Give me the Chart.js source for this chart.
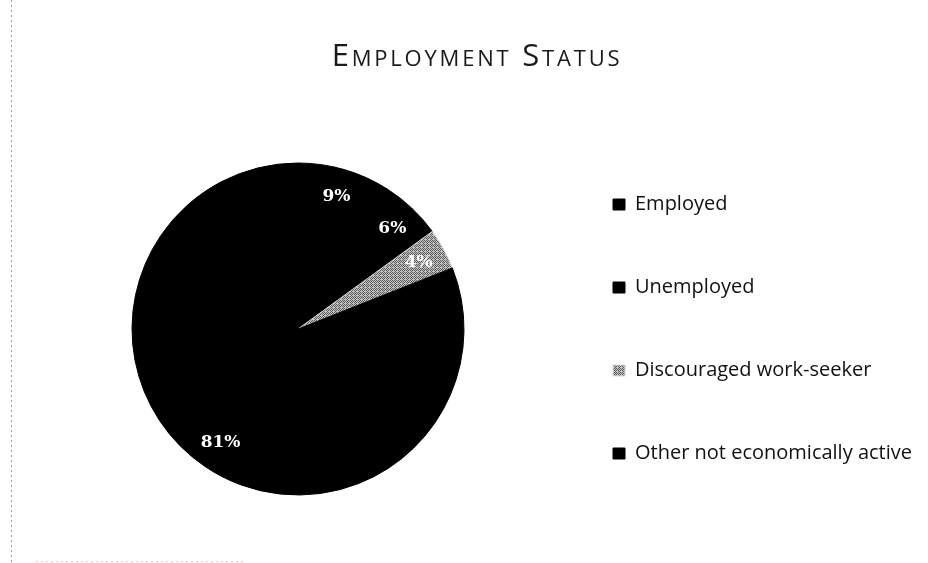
<!DOCTYPE html>
<html>
<head>
<meta charset="utf-8">
<script src="https://cdn.jsdelivr.net/npm/chart.js@4.4.1/dist/chart.umd.min.js"></script>
<style>
  html, body { margin: 0; padding: 0; background: #ffffff; }
  #wrap { width: 928px; height: 563px; position: relative; }
</style>
</head>
<body>
<div id="wrap"><canvas id="c" width="928" height="563"></canvas></div>
<script>
// ---- data ----
const chartTitle = 'Employment Status';
const categories = ['Employed', 'Unemployed', 'Discouraged work-seeker', 'Other not economically active'];
const percentValues = [9, 6, 4, 81];
const percentLabels = ['9%', '6%', '4%', '81%'];

// ---- styles ----
function makeHatch() {
  const p = document.createElement('canvas');
  p.width = 4; p.height = 4;
  const g = p.getContext('2d');
  g.fillStyle = '#c4c4c4'; g.fillRect(0, 0, 4, 4);
  g.fillStyle = '#5a5a5a';
  g.fillRect(0, 0, 1, 1); g.fillRect(2, 0, 1, 1);
  g.fillRect(1, 1, 1, 1); g.fillRect(3, 1, 1, 1);
  g.fillRect(0, 2, 1, 1); g.fillRect(2, 2, 1, 1);
  g.fillRect(3, 3, 1, 1);
  return g.createPattern(p, 'repeat');
}
const ctx = document.getElementById('c').getContext('2d');
const hatch = makeHatch();
const sliceColors = ['#000000', '#000000', hatch, '#000000'];
const sliceBorders = ['#000000', '#000000', '#d8d8d8', '#000000'];

const legendFontSize = 20;
const legendFamily = "'Open Sans', sans-serif";
const legendPad = 63;
const legendBox = 12;
const pieCenterX = 298;
const pieRadius = 166;

// measure legend text to place the chart area
ctx.save();
ctx.font = legendFontSize + 'px ' + legendFamily;
let maxText = 0;
categories.forEach(t => { maxText = Math.max(maxText, ctx.measureText(t).width); });
ctx.restore();
const legendBoxX = 613;
const chartRight = legendBoxX - legendPad;
const chartLeft = 2 * pieCenterX - chartRight;
const legendWidth = legendPad + legendBox + legendFontSize / 2 + maxText;
const rightPad = Math.max(0, 928 - chartRight - legendWidth - 10);

const titlePlugin = {
  id: 'smallCapsTitle',
  afterDraw(chart) {
    const c = chart.ctx;
    c.save();
    c.font = "small-caps 400 31px 'Open Sans', sans-serif";
    try { c.fontVariantCaps = 'small-caps'; } catch (e) {}
    try { c.letterSpacing = '2.8px'; } catch (e) {}
    c.fillStyle = '#1a1a1a';
    c.textAlign = 'center';
    c.textBaseline = 'alphabetic';
    c.fillText(chartTitle, 477, 66);
    c.restore();
  }
};

const pctLabelPlugin = {
  id: 'pctLabels',
  afterDatasetsDraw(chart) {
    const meta = chart.getDatasetMeta(0);
    const c = chart.ctx;
    c.save();
    c.fillStyle = '#ffffff';
    c.font = "bold 17px 'DejaVu Serif', serif";
    c.textAlign = 'center';
    c.textBaseline = 'middle';
    meta.data.forEach((arc, i) => {
      const mid = (arc.startAngle + arc.endAngle) / 2;
      const r = arc.outerRadius * 0.83;
      c.fillText(percentLabels[i], arc.x + Math.cos(mid) * r, arc.y + Math.sin(mid) * r);
    });
    c.restore();
  }
};

const edgePlugin = {
  id: 'scanEdge',
  beforeDraw(chart) {
    const c = chart.ctx;
    c.save();
    c.strokeStyle = '#9a9a9a';
    c.lineWidth = 1;
    c.setLineDash([2, 3]);
    c.beginPath();
    c.moveTo(11.5, 0); c.lineTo(11.5, 563);
    c.stroke();
    c.strokeStyle = '#d0d0d0';
    c.beginPath();
    c.moveTo(36, 561.5); c.lineTo(245, 561.5);
    c.stroke();
    c.restore();
  }
};

new Chart(ctx, {
  type: 'pie',
  data: {
    labels: categories,
    datasets: [{
      data: percentValues,
      backgroundColor: sliceColors,
      borderColor: sliceBorders,
      borderWidth: 1,
      radius: pieRadius
    }]
  },
  options: {
    responsive: false,
    animation: false,
    events: [],
    layout: { padding: { left: chartLeft, right: rightPad, top: 110, bottom: 15 } },
    plugins: {
      title: { display: false },
      legend: {
        display: true,
        position: 'right',
        align: 'center',
        fullSize: false,
        labels: {
          boxWidth: legendBox,
          boxHeight: 11,
          padding: legendPad,
          color: '#111111',
          font: { family: legendFamily, size: legendFontSize }
        }
      },
      tooltip: { enabled: false }
    }
  },
  plugins: [pctLabelPlugin, edgePlugin, titlePlugin]
});
</script>
</body>
</html>
